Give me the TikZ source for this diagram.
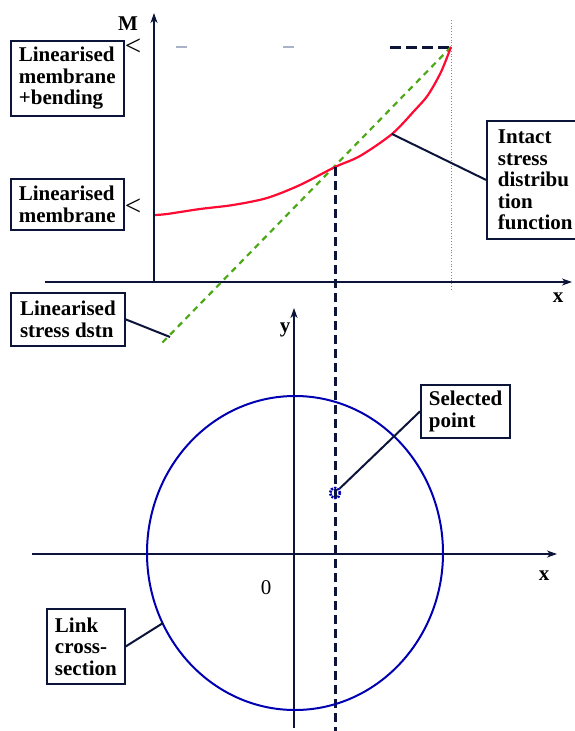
\documentclass[tikz,border=0pt]{standalone}
\usepackage{fontspec}
\setmainfont{Liberation Serif}
\usetikzlibrary{arrows.meta}
\definecolor{navy}{RGB}{12,20,58}
\definecolor{ellblue}{RGB}{0,0,178}
\definecolor{curvered}{RGB}{255,10,50}
\definecolor{lingreen}{RGB}{78,168,22}
\definecolor{faint}{RGB}{170,178,200}
\definecolor{guide}{RGB}{120,135,175}

\begin{document}
\begin{tikzpicture}[x=1pt,y=-1pt,
    axis/.style={navy, line width=2pt, -{Stealth[length=10pt,width=7pt,inset=3pt]}},
    lblbox/.style={draw=navy, line width=1.8pt, anchor=north west,
        font=\bfseries\fontsize{21}{21.5}\selectfont, align=left,
        inner xsep=8pt, inner ysep=4pt},
    lead/.style={navy, line width=2pt},
    tick/.style={font=\fontsize{21}{21}\selectfont},
    axlabel/.style={font=\bfseries\fontsize{21}{21}\selectfont}
]
\useasboundingbox (0,0) rectangle (574,731);

\def\xsel{335} % abscisse du point choisi
\def\ymax{47}  % niveau max de la courbe

% top plot axes
\draw[axis] (154,282) -- (154,13);
\draw[axis] (45,282) -- (572,282);
\node (mlabel) [axlabel] at (128,24) {M};
\node (xtop) [axlabel] at (558,298) {x};
\draw[guide, line width=0.8pt, dotted] (451,20) -- (451,290);

% max level
\draw[faint, line width=1.5pt, dash pattern=on 11pt off 96pt] (176,\ymax) -- (390,\ymax);
\draw[navy, line width=3pt, dash pattern=on 11pt off 5pt] (390,\ymax) -- (451,\ymax);

% levels
\foreach \y/\nm in {\ymax/lvltop, 207/lvlmem} {
    \node (\nm) [tick, font=\fontsize{29}{29}\selectfont] at (133,\y) {<};
}

% linearised + intact curves
\coordinate (lintop) at (451,\ymax);
\coordinate (linbot) at (160,345);
\draw[lingreen, line width=2.2pt, dash pattern=on 6pt off 5pt] (lintop) -- (linbot);
\draw[curvered, line width=2.2pt] plot[smooth, tension=0.5] coordinates {
    (155,215) (167,214) (200,209) (233,205) (267,198) (300,185) (335,167)
    (360,156) (392,134) (415,110) (428,95) (441,72) (451,47)};

% cut at the selected point
\coordinate (cross) at (\xsel,167);
\coordinate (xbot) at (\xsel,731);
\draw[navy, line width=3pt, dash pattern=on 9pt off 5pt] (cross) -- (xbot);

% labels of the top plot
\node (lmb) [lblbox, minimum width=112pt, minimum height=75pt] at (10,40)
    {Linearised\\membrane\\+bending};
\node (lm) [lblbox, minimum width=112pt, minimum height=51pt] at (10,178)
    {Linearised\\membrane};
\node (intact) [lblbox, inner xsep=11pt, minimum height=118pt] at (486,120)
    {Intact\\stress\\distribu\\tion\\function};
\node (lsd) [lblbox, minimum width=114pt, minimum height=53pt] at (10,292)
    {Linearised\\stress dstn};
\coordinate (pint) at (392,134);
\coordinate (plin) at (170,337);
\draw[lead] (intact.west) -- (pint);
\draw[lead] (lsd.east) -- (plin);

% cross-section
\draw[axis] (32,554) -- (557,554);
\draw[axis] (294,728) -- (294,308);
\node (ylabel) [axlabel] at (285,330) {y};
\node (xbotlabel) [axlabel] at (544,576) {x};
\node (origin) [tick] at (266,588) {0};
\draw[ellblue, line width=2pt] (295,553) ellipse [x radius=148, y radius=157];
\node (selpt) [circle, draw=ellblue, line width=2.6pt, dash pattern=on 2pt off 1.2pt,
    minimum size=10pt, inner sep=0pt] at (\xsel,493) {};

% labels of the cross-section
\node (sel) [lblbox, minimum width=89pt, minimum height=53pt] at (420,384)
    {Selected\\point};
\node (link) [lblbox, minimum width=78pt, minimum height=75pt] at (46,608)
    {Link\\cross-\\section};
\coordinate (pell) at (163,623);
\draw[lead] (sel.west) -- (selpt);
\draw[lead] (link.east) -- (pell);

\end{tikzpicture}
\end{document}
